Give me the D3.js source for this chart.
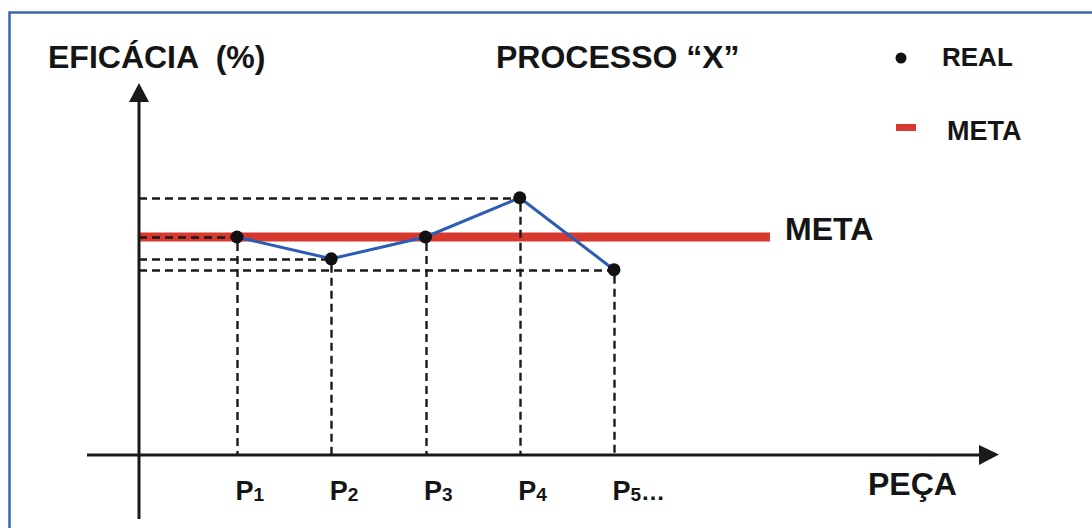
<!DOCTYPE html>
<html>
<head>
<meta charset="utf-8">
<script src="https://cdn.jsdelivr.net/npm/d3@7/dist/d3.min.js"></script>
<style>
  html, body { margin: 0; padding: 0; background: #fff; }
  svg { display: block; }
  text { font-family: "Liberation Sans", Arial, sans-serif; font-weight: bold; fill: #151515; }
</style>
</head>
<body>
<svg id="chart" width="1092" height="528"></svg>
<script>
// ---- data ----
const categories = ["P1", "P2", "P3", "P4", "P5"];
const tickLabels = [["P", "1", ""], ["P", "2", ""], ["P", "3", ""], ["P", "4", ""], ["P", "5", "…"]];
const realValues = [100, 90, 100, 118, 85];
const metaValue = 100;
const chartTitle = "PROCESSO “X”";
const yAxisTitle = "EFICÁCIA  (%)";
const xAxisTitle = "PEÇA";
const legendLabels = ["REAL", "META"];

// ---- layout ----
const svg = d3.select("#chart");
const axisX0 = 87, axisX1 = 980, axisY = 455;
const yAxisX = 139, yAxisTop = 101, yAxisBottom = 519;

const x = d3.scalePoint().domain(categories).range([237, 614]);
const y = d3.scaleLinear().domain([0, 100]).range([axisY, 237]);

const ink = "#1a1a1a";
const red = "#d8392e";
const blue = "#2b5cb6";

// frame
svg.append("path")
  .attr("d", "M9.5,528 V12.5 H1092")
  .attr("fill", "none").attr("stroke", "#3f63ad").attr("stroke-width", 2.5);

// meta line
svg.append("line")
  .attr("x1", yAxisX).attr("x2", 770)
  .attr("y1", y(metaValue)).attr("y2", y(metaValue))
  .attr("stroke", red).attr("stroke-width", 9);

// dashed guides
const pts = categories.map((c, i) => ({ c, v: realValues[i], i }));
const guides = svg.append("g").attr("stroke", ink).attr("stroke-width", 2.4).attr("stroke-dasharray", "8,5").attr("fill", "none");
guides.selectAll(".h")
  .data(pts.filter(p => !pts.some(q => q.i < p.i && q.v === p.v)))
  .join("line")
  .attr("x1", yAxisX).attr("x2", d => x(d.c))
  .attr("y1", d => Math.round(y(d.v)) + 0.5).attr("y2", d => Math.round(y(d.v)) + 0.5);
guides.selectAll(".v")
  .data(pts)
  .join("line")
  .attr("x1", d => Math.round(x(d.c)) + 0.5).attr("x2", d => Math.round(x(d.c)) + 0.5)
  .attr("y1", d => y(d.v) + 6).attr("y2", axisY);

// axes
svg.append("line").attr("x1", axisX0).attr("x2", axisX1).attr("y1", axisY).attr("y2", axisY)
  .attr("stroke", ink).attr("stroke-width", 3);
svg.append("path").attr("d", `M${axisX1 - 1},${axisY - 10} L${axisX1 + 19},${axisY - 0.5} L${axisX1 - 1},${axisY + 10} Z`)
  .attr("fill", ink);
svg.append("line").attr("x1", yAxisX).attr("x2", yAxisX).attr("y1", yAxisTop).attr("y2", yAxisBottom)
  .attr("stroke", ink).attr("stroke-width", 3);
svg.append("path").attr("d", `M${yAxisX - 10},${yAxisTop + 1} L${yAxisX},${yAxisTop - 18} L${yAxisX + 10},${yAxisTop + 1} Z`)
  .attr("fill", ink);

// x tick labels via axis
const xAxis = svg.append("g").attr("transform", `translate(0,${axisY})`)
  .call(d3.axisBottom(x).tickSize(0).tickFormat(""));
xAxis.select(".domain").remove();
xAxis.selectAll(".tick").each(function (d, i) {
  const t = d3.select(this).select("text")
    .attr("text-anchor", "start").attr("x", -2).attr("y", 45).attr("dy", null)
    .style("font-size", "27px").attr("fill", "#151515");
  t.text(null);
  const lab = tickLabels[i];
  t.append("tspan").text(lab[0]);
  t.append("tspan").style("font-size", "19px").attr("dy", 1).text(lab[1]);
  if (lab[2]) t.append("tspan").attr("dy", -1).style("font-size", "24px").text(lab[2]);
});

// real line + dots
svg.append("path").datum(pts)
  .attr("d", d3.line().x(d => x(d.c)).y(d => y(d.v)))
  .attr("fill", "none").attr("stroke", blue).attr("stroke-width", 3);
svg.selectAll(".dot").data(pts).join("circle")
  .attr("cx", d => x(d.c)).attr("cy", d => y(d.v)).attr("r", 6.5).attr("fill", "#111");

// META label by line
svg.append("text").attr("x", 785).attr("y", y(metaValue) + 3).style("font-size", "32px").text("META");

// titles
svg.append("text").attr("x", 48).attr("y", 68).style("font-size", "32px").style("white-space", "pre").text(yAxisTitle);
svg.append("text").attr("x", 496).attr("y", 68).style("font-size", "32px").text(chartTitle);
svg.append("text").attr("x", 868).attr("y", 495).style("font-size", "32px").text(xAxisTitle);

// legend
svg.append("circle").attr("cx", 901).attr("cy", 58).attr("r", 5.5).attr("fill", "#111");
svg.append("text").attr("x", 942).attr("y", 66).style("font-size", "26px").text(legendLabels[0]);
svg.append("rect").attr("x", 896).attr("y", 124).attr("width", 20).attr("height", 7).attr("fill", red);
svg.append("text").attr("x", 947).attr("y", 140).style("font-size", "27px").text(legendLabels[1]);
</script>
</body>
</html>
